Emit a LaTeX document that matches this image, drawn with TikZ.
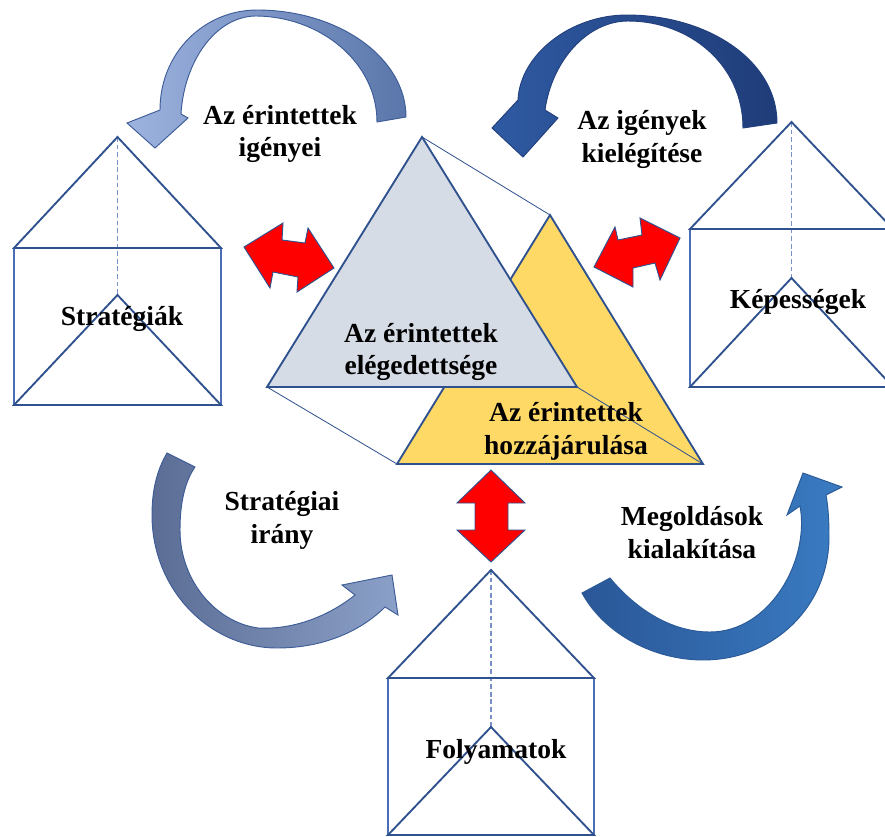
\documentclass[tikz,border=0pt]{standalone}
\usepackage{fontspec}
\setmainfont{Liberation Serif}
\begin{document}
\begin{tikzpicture}[x=0.03cm, y=-0.03cm,
  edge/.style={draw=outl, line width=1.6pt, line join=miter},
  thinside/.style={draw=sidel, line width=0.9pt},
  dashline/.style={draw=dashc, line width=0.9pt, dash pattern=on 4pt off 2.5pt},
  link/.style={draw=outl, line width=0.7pt},
  redarrow/.style={fill=red, draw=outl, line width=0.8pt, line join=miter},
  lbl/.style={font=\fontsize{23.5}{28}\selectfont\bfseries, align=center, inner sep=0pt, text=black},
  curvA/.style={left color=arrAl, right color=arrAr, draw=arrAd, line width=0.8pt},
  curvB/.style={left color=arrBl, right color=arrBr, draw=arrBd, line width=0.8pt},
  curvC/.style={left color=arrCl, right color=arrCr, draw=arrAd, line width=0.8pt},
  curvD/.style={left color=arrDl, right color=arrDr, draw=arrDd, line width=0.8pt},
]
\definecolor{outl}{HTML}{2F528F}
\definecolor{sidel}{HTML}{4A6DB5}
\definecolor{dashc}{HTML}{7A90C8}
\definecolor{greyfill}{HTML}{D6DCE5}
\definecolor{goldfill}{HTML}{FFD966}
\definecolor{arrAl}{HTML}{9DB3DF}
\definecolor{arrAr}{HTML}{5A76AA}
\definecolor{arrAd}{HTML}{3D5C98}
\definecolor{arrBl}{HTML}{2F5AA2}
\definecolor{arrBr}{HTML}{1F3C78}
\definecolor{arrBd}{HTML}{22407E}
\definecolor{arrCl}{HTML}{5B6D94}
\definecolor{arrCr}{HTML}{8BA0C8}
\definecolor{arrDl}{HTML}{2A5797}
\definecolor{arrDr}{HTML}{3A7BC2}
\definecolor{arrDd}{HTML}{2A5A98}

\useasboundingbox (0,0) rectangle (885,837);

% prism drawn as a house: roof, box, inner triangle and hidden edge
\newcommand{\prismhouse}[6]{%
  \pgfmathsetmacro\hx{(#1+#2)/2}
  \draw[thinside] (#1,#4) -- (#1,#6);
  \draw[thinside] (#2,#4) -- (#2,#6);
  \draw[dashline] (\hx,#3) -- (\hx,#5);
  \draw[edge] (#1,#4) -- (\hx,#3) -- (#2,#4) -- cycle;
  \draw[edge] (#1,#6) -- (\hx,#5) -- (#2,#6) -- cycle;
}

% curved arrows
\shadedraw[curvA] (406,117) .. controls (406,58) and (339,10) .. (257,10)
  .. controls (205,10) and (160,52) .. (160,110)
  -- (127,123) -- (155,148) -- (188,118) -- (181,114)
  .. controls (184,62) and (215,17) .. (255,16)
  .. controls (320,16) and (377,62) .. (377,122) -- cycle;

\shadedraw[curvB] (777,123) .. controls (777,60) and (707,15) .. (627,15)
  .. controls (570,15) and (520,55) .. (518,100)
  -- (492,128) -- (523,157) -- (558,118) -- (545,110)
  .. controls (552,60) and (588,21) .. (628,21)
  .. controls (690,21) and (743,65) .. (743,128) -- cycle;

\shadedraw[curvC] (167,453) .. controls (157,470) and (152,490) .. (152,515)
  .. controls (152,590) and (210,648) .. (277,648)
  .. controls (325,648) and (362,630) .. (385,607)
  -- (398,615) -- (392,575) -- (342,585) -- (355,595)
  .. controls (330,615) and (295,630) .. (258,628)
  .. controls (215,622) and (180,580) .. (180,530)
  .. controls (180,500) and (186,480) .. (195,467) -- cycle;

\shadedraw[curvD] (582,593) .. controls (605,635) and (655,660) .. (703,660)
  .. controls (775,660) and (830,605) .. (829,535)
  .. controls (829,520) and (828,505) .. (826,495)
  -- (842,487) -- (803,473) -- (787,515) -- (800,506)
  .. controls (810,560) and (770,632) .. (710,632)
  .. controls (670,632) and (635,608) .. (610,578) -- cycle;

% houses
\prismhouse{14}{221}{137}{248}{295}{405}
\prismhouse{690}{893}{122}{229}{278}{387}
\prismhouse{388}{594}{570}{678}{727}{835}

% central pyramid
\filldraw[edge, fill=goldfill] (550,215) -- (397,464) -- (703,464) -- cycle;
\draw[link] (422,137) -- (550,215);
\draw[link] (267,387) -- (397,464);
\filldraw[edge, fill=greyfill] (422,137) -- (267,387) -- (577,387) -- cycle;
\draw[link] (577,387) -- (703,464);

% red double arrows
\filldraw[redarrow] (244,247) -- (283,223) -- (282,240) -- (305,243) -- (308,228)
  -- (334,268) -- (297,292) -- (298,277) -- (273,272) -- (270,288) -- cycle;
\filldraw[redarrow] (594,267) -- (615,227) -- (618,240) -- (642,235) -- (640,218)
  -- (680,238) -- (660,280) -- (655,263) -- (633,268) -- (633,287) -- cycle;
\filldraw[redarrow] (491,470) -- (525,503) -- (508,503) -- (508,530) -- (525,530)
  -- (491,562) -- (457,530) -- (475,530) -- (475,503) -- (457,503) -- cycle;

% labels
\node[lbl] (needs) at (280,134) {Az érintettek\\igényei};
\node[lbl] (meet) at (642,139.5) {Az igények\\kielégítése};
\node[lbl] (satisf) at (421,352) {Az érintettek\\elégedettsége};
\node[lbl] (contrib) at (566,431.5) {Az érintettek\\hozzájárulása};
\node[lbl] (direction) at (282,520.5) {Stratégiai\\irány};
\node[lbl] (solutions) at (692,532.5) {Megoldások\\kialakítása};
\node[lbl, anchor=base] (strat) at (122,325) {Stratégiák};
\node[lbl, anchor=base] (capab) at (798,308) {Képességek};
\node[lbl, anchor=base] (proc) at (496,758) {Folyamatok};
\end{tikzpicture}
\end{document}
